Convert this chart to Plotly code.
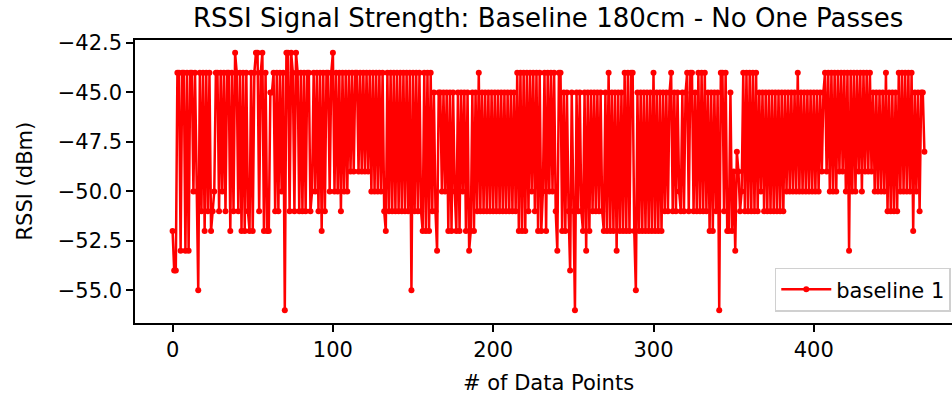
import plotly.graph_objects as go

# RSSI readings (dBm), one per data point index
rssi = [
    -52, -54, -54, -44, -44, -53, -44, -44, -53, -44, -53, -44, -44, -50, -44, -50, -55, -44, -51, -44,
    -52, -44, -51, -44, -52, -51, -50, -44, -44, -51, -44, -50, -44, -51, -44, -44, -52, -44, -51, -43,
    -44, -51, -44, -52, -44, -52, -44, -51, -52, -44, -52, -44, -43, -43, -51, -44, -43, -52, -44, -52,
    -52, -45, -45, -44, -51, -44, -51, -44, -50, -44, -56, -43, -43, -51, -43, -44, -51, -43, -44, -51,
    -44, -51, -44, -51, -44, -44, -51, -50, -44, -50, -44, -51, -44, -52, -44, -51, -44, -44, -50, -44,
    -43, -50, -44, -50, -44, -51, -44, -50, -44, -50, -44, -49, -44, -49, -44, -44, -49, -44, -49, -44,
    -49, -44, -49, -44, -50, -44, -50, -44, -50, -44, -50, -44, -51, -52, -44, -51, -44, -51, -44, -51,
    -44, -51, -44, -51, -44, -51, -44, -51, -44, -55, -44, -51, -44, -51, -44, -51, -52, -44, -52, -44,
    -52, -44, -51, -45, -51, -53, -45, -45, -50, -45, -50, -45, -52, -45, -52, -45, -50, -52, -45, -52,
    -45, -50, -45, -52, -45, -53, -52, -45, -52, -45, -51, -44, -51, -45, -51, -45, -51, -45, -51, -45,
    -51, -45, -51, -45, -51, -45, -51, -45, -51, -45, -51, -45, -51, -45, -51, -44, -52, -44, -52, -44,
    -52, -44, -51, -44, -50, -44, -51, -44, -52, -44, -52, -50, -44, -52, -44, -50, -44, -50, -44, -51,
    -53, -44, -44, -52, -45, -52, -45, -51, -54, -45, -51, -56, -45, -51, -45, -51, -52, -45, -53, -45,
    -52, -45, -51, -45, -51, -45, -51, -45, -51, -52, -45, -52, -44, -52, -45, -52, -45, -53, -45, -52,
    -45, -52, -44, -52, -44, -52, -44, -44, -52, -55, -45, -52, -45, -52, -45, -52, -45, -52, -45, -52,
    -44, -52, -45, -52, -45, -52, -45, -51, -45, -51, -45, -44, -51, -45, -51, -45, -50, -51, -45, -51,
    -45, -44, -51, -44, -44, -51, -45, -51, -44, -51, -44, -51, -44, -51, -45, -52, -45, -52, -45, -51,
    -45, -56, -44, -44, -51, -44, -52, -52, -45, -52, -49, -53, -48, -49, -51, -50, -44, -51, -44, -51,
    -44, -51, -44, -51, -44, -51, -45, -50, -45, -51, -45, -51, -45, -51, -45, -51, -45, -51, -45, -51,
    -45, -51, -45, -50, -45, -50, -45, -50, -45, -50, -44, -50, -45, -50, -45, -50, -45, -50, -45, -50,
    -45, -50, -45, -50, -45, -49, -45, -44, -49, -44, -50, -44, -50, -44, -50, -44, -49, -44, -49, -44,
    -50, -44, -53, -44, -50, -44, -50, -44, -49, -44, -50, -44, -49, -44, -49, -44, -49, -45, -50, -45,
    -50, -45, -50, -45, -50, -44, -51, -45, -51, -45, -51, -45, -51, -44, -50, -44, -50, -44, -50, -44,
    -50, -44, -52, -45, -50, -45, -51, -45, -45, -48,
]
points = list(range(len(rssi)))

x_tick_vals = [0, 100, 200, 300, 400]
y_tick_vals = [-42.5, -45.0, -47.5, -50.0, -52.5, -55.0]
y_tick_text = ["\u221242.5", "\u221245.0", "\u221247.5", "\u221250.0", "\u221252.5", "\u221255.0"]

title_text = "RSSI Signal Strength: Baseline 180cm - No One Passes"
x_label = "# of Data Points"
y_label = "RSSI (dBm)"
series_name = "baseline 1"

FONT = "DejaVu Sans"
W, H = 952, 398
L, R, T, B = 135, 0, 40, 75

fig = go.Figure()
fig.add_trace(go.Scatter(
    x=points, y=rssi, mode="lines+markers", name=series_name,
    line=dict(color="#ff0000", width=2.5),
    marker=dict(size=6, color="#ff0000"),
))

n = len(rssi)
xmargin = 0.05 * (n - 1)
x_lo = -xmargin
px_per_unit = (962 - 135) / ((n - 1) + 2 * xmargin)
x_hi = x_lo + (W - L) / px_per_unit

fig.update_layout(
    width=W, height=H,
    margin=dict(l=L, r=R, t=T, b=B, pad=0),
    paper_bgcolor="white", plot_bgcolor="white",
    font=dict(family=FONT, color="#000000", size=21),
    showlegend=True,
    legend=dict(
        x=0.9985, xanchor="right", y=0.04, yanchor="bottom",
        bgcolor="rgba(255,255,255,0.85)", bordercolor="#d0d0d0", borderwidth=1.5,
        font=dict(family=FONT, size=21, color="#000000"),
        itemwidth=50,
    ),
    xaxis=dict(
        range=[x_lo, x_hi], tickvals=x_tick_vals, ticks="outside", ticklen=7, tickwidth=1.5,
        tickcolor="#000", showline=True, linecolor="#000", linewidth=1.5, mirror=True,
        showgrid=False, zeroline=False, tickfont=dict(size=21),
    ),
    yaxis=dict(
        range=[-56.65, -42.35], tickvals=y_tick_vals, ticktext=y_tick_text, ticks="outside",
        ticklen=7, tickwidth=1.5, tickcolor="#000", showline=True, linecolor="#000", linewidth=1.5,
        mirror=False, showgrid=False, zeroline=False, tickfont=dict(size=21),
    ),
    annotations=[
        dict(text=title_text, xref="paper", yref="paper", x=(548 - L) / (W - L), y=1,
             yshift=22, xanchor="center", yanchor="middle", showarrow=False,
             font=dict(size=26, family=FONT, color="#000")),
        dict(text=x_label, xref="paper", yref="paper", x=(548 - L) / (W - L), y=0,
             yshift=-(383 - (H - B)), xanchor="center", yanchor="middle", showarrow=False,
             font=dict(size=21, family=FONT, color="#000")),
        dict(text=y_label, xref="paper", yref="paper", x=0, xshift=-(L - 24), y=0.5,
             xanchor="center", yanchor="middle", textangle=-90, showarrow=False,
             font=dict(size=21, family=FONT, color="#000")),
    ],
)

fig.write_html("out.html")
